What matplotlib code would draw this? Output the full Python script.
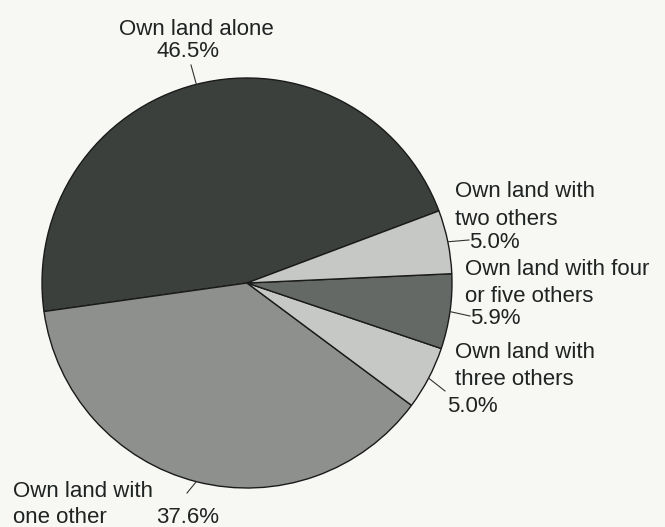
import numpy as np
import matplotlib.pyplot as plt

plt.rcParams["font.family"] = ["Liberation Sans", "DejaVu Sans"]

# shares of holdings by number of co-owners
names = ["Own land alone", "Own land with\none other", "Own land with\nthree others",
         "Own land with four\nor five others", "Own land with\ntwo others"]
shares = [46.5, 37.6, 5.0, 5.9, 5.0]
colors = ["#3b403d", "#8d908d", "#c6c8c6", "#646966", "#c6c8c6"]

W, H = 665, 527
cx, cy, r = 247, 527 - 283, 205
start = 20.6

fig = plt.figure(figsize=(W / 100, H / 100), dpi=100)
fig.patch.set_facecolor("#f7f7f4")
ax = fig.add_axes([0, 0, 1, 1])

wedges, _ = ax.pie(shares, colors=colors, startangle=start, counterclock=True,
                   center=(cx, cy), radius=r, frame=True,
                   wedgeprops=dict(edgecolor="#1a1a1a", linewidth=1.0))
ax.set_xlim(0, W)
ax.set_ylim(0, H)
ax.set_aspect("equal")
ax.axis("off")

fs = 16
tc = "#1f2321"

# per label: name x, ha, baselines of name lines, pct x, pct ha, pct baseline, leader end
layout = [
    (196, "center", [35], 188, "center", 57, (191, 65)),
    (13, "left", [497, 523], 156, "left", 523, (187, 493)),
    (455, "left", [358, 385], 447, "left", 412, (445, 391)),
    (465, "left", [275, 302], 470, "left", 324, (470, 316)),
    (455, "left", [197, 225], 469, "left", 248, (469, 240)),
]

for i, (name, val) in enumerate(zip(names, shares)):
    nx, ha, lines_y, px, pha, py, (lx, ly) = layout[i]
    for line, by in zip(name.split("\n"), lines_y):
        ax.text(nx, H - by, line, ha=ha, va="baseline", fontsize=fs, color=tc)
    ax.text(px, H - py, f"{val:.1f}%", ha=pha, va="baseline", fontsize=fs, color=tc)
    w = wedges[i]
    mid = np.deg2rad((w.theta1 + w.theta2) / 2)
    ex, ey = cx + r * np.cos(mid), cy + r * np.sin(mid)
    ax.plot([ex, lx], [ey, H - ly], color="#333333", lw=0.8)

fig.savefig("out.png", dpi=100, facecolor=fig.get_facecolor())
